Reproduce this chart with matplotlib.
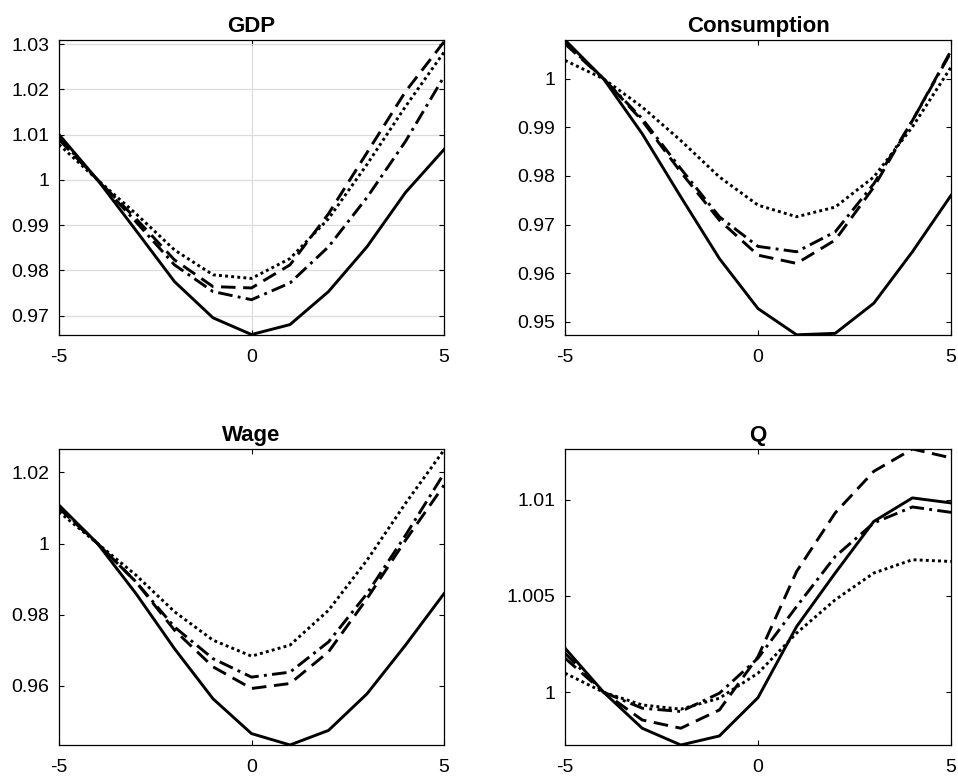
import numpy as np
import matplotlib
matplotlib.use("Agg")
import matplotlib.pyplot as plt

plt.rcParams['font.family'] = ['Liberation Sans', 'DejaVu Sans']

horizon = [-5, -4, -3, -2, -1, 0, 1, 2, 3, 4, 5]

# GDP
gdp_solid = [1.0100, 1.0000, 0.9888, 0.9775, 0.9695, 0.9658, 0.9680, 0.9753, 0.9852, 0.9972, 1.0067]
gdp_dashdot = [1.0093, 1.0000, 0.9907, 0.9812, 0.9753, 0.9735, 0.9772, 0.9852, 0.9961, 1.0085, 1.0228]
gdp_dashed = [1.0089, 1.0000, 0.9914, 0.9823, 0.9764, 0.9761, 0.9812, 0.9925, 1.0060, 1.0195, 1.0305]
gdp_dotted = [1.0078, 1.0000, 0.9925, 0.9845, 0.9790, 0.9782, 0.9826, 0.9914, 1.0034, 1.0162, 1.0282]

# Consumption
cons_solid = [1.0080, 1.0000, 0.9887, 0.9757, 0.9630, 0.9527, 0.9473, 0.9476, 0.9538, 0.9644, 0.9760]
cons_dashdot = [1.0075, 1.0000, 0.9918, 0.9815, 0.9716, 0.9655, 0.9644, 0.9685, 0.9784, 0.9914, 1.0055]
cons_dashed = [1.0072, 1.0000, 0.9914, 0.9808, 0.9709, 0.9637, 0.9620, 0.9668, 0.9777, 0.9914, 1.0058]
cons_dotted = [1.0038, 1.0000, 0.9942, 0.9873, 0.9798, 0.9740, 0.9716, 0.9736, 0.9798, 0.9901, 1.0024]

# Wage
wage_solid = [1.0108, 1.0000, 0.9859, 0.9704, 0.9563, 0.9465, 0.9433, 0.9474, 0.9577, 0.9714, 0.9859]
wage_dashdot = [1.0103, 1.0000, 0.9892, 0.9765, 0.9676, 0.9624, 0.9638, 0.9723, 0.9859, 1.0023, 1.0197]
wage_dashed = [1.0099, 1.0000, 0.9892, 0.9756, 0.9653, 0.9592, 0.9606, 0.9695, 0.9845, 1.0009, 1.0164]
wage_dotted = [1.0089, 1.0000, 0.9911, 0.9808, 0.9728, 0.9683, 0.9714, 0.9812, 0.9953, 1.0113, 1.0263]

# Q
q_solid = [1.00229, 1.00000, 0.99813, 0.99726, 0.99773, 0.99972, 1.00341, 1.00619, 1.00887, 1.01009, 1.00983]
q_dashdot = [1.00203, 1.00000, 0.99917, 0.99900, 0.99995, 1.00177, 1.00445, 1.00705, 1.00879, 1.00962, 1.00934]
q_dashed = [1.00177, 1.00000, 0.99856, 0.99813, 0.99908, 1.00185, 1.00627, 1.00931, 1.01147, 1.01263, 1.01217]
q_dotted = [1.00099, 1.00000, 0.99934, 0.99912, 0.99969, 1.00099, 1.00307, 1.00480, 1.00619, 1.00688, 1.00679]

panels = [
    ("GDP", [gdp_solid, gdp_dashdot, gdp_dashed, gdp_dotted], (0.9657, 1.0309),
     [0.97, 0.98, 0.99, 1.0, 1.01, 1.02, 1.03], ['0.97', '0.98', '0.99', '1', '1.01', '1.02', '1.03'], True),
    ("Consumption", [cons_solid, cons_dashdot, cons_dashed, cons_dotted], (0.94726, 1.0080),
     [0.95, 0.96, 0.97, 0.98, 0.99, 1.0], ['0.95', '0.96', '0.97', '0.98', '0.99', '1'], False),
    ("Wage", [wage_solid, wage_dashdot, wage_dashed, wage_dotted], (0.94329, 1.0266),
     [0.96, 0.98, 1.0, 1.02], ['0.96', '0.98', '1', '1.02'], False),
    ("Q", [q_solid, q_dashdot, q_dashed, q_dotted], (0.99726, 1.01263),
     [1.0, 1.005, 1.01], ['1', '1.005', '1.01'], False),
]

styles = [
    dict(linestyle='-'),
    dict(linestyle=(0, (5.0, 1.8, 1.0, 1.8))),
    dict(linestyle=(0, (5.0, 2.6))),
    dict(linestyle=(0, (1.0, 1.1))),
]

W, H = 958, 778
fig = plt.figure(figsize=(W / 100, H / 100), dpi=100)

# axes boxes in pixels: left, top, right, bottom
boxes = [(59, 40, 444, 335), (565, 40, 951, 335),
         (59, 449, 444, 745), (565, 449, 951, 745)]

for (title, series, ylim, yt, ytl, grid), (l, t, r, b) in zip(panels, boxes):
    ax = fig.add_axes([l / W, 1 - b / H, (r - l) / W, (b - t) / H])
    for s, st in zip(series, styles):
        ax.plot(horizon, s, color='black', lw=2.1, **st)
    ax.set_xlim(-5, 5)
    ax.set_ylim(*ylim)
    ax.set_xticks([-5, 0, 5])
    ax.set_xticklabels(['-5', '0', '5'])
    ax.set_yticks(yt)
    ax.set_yticklabels(ytl)
    ax.tick_params(direction='in', length=3.5, width=0.8, top=True, right=True,
                   labelsize=14, colors='black')
    ax.tick_params(axis='x', pad=10)
    ax.tick_params(axis='y', pad=7)
    for sp in ax.spines.values():
        sp.set_linewidth(0.9)
    if grid:
        ax.grid(True, color='#dcdcdc', lw=0.9)
        ax.set_axisbelow(True)
    ax.set_title(title, fontsize=16, fontweight='bold', pad=6)

fig.savefig('out.png', dpi=100)
